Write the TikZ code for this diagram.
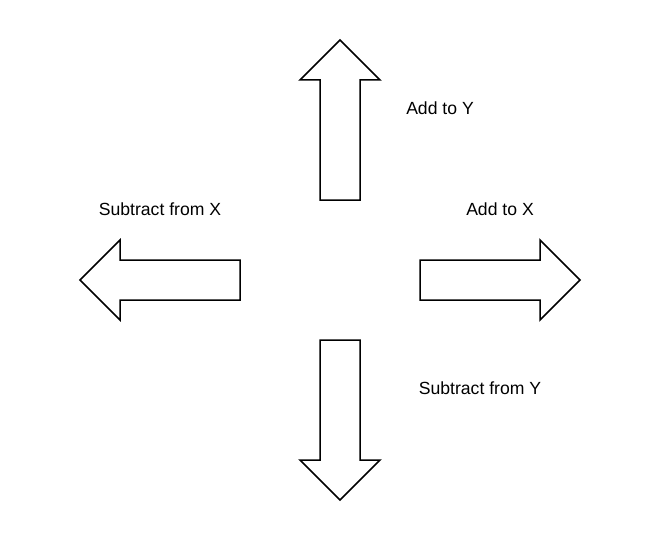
\documentclass[tikz,border=0pt]{standalone}
\usepackage{fontspec}
\setmainfont{Liberation Sans}
\begin{document}
\begin{tikzpicture}[x=1pt,y=-1pt,
  arrowshape/.style={draw=black,fill=white,line width=1.5pt,line join=miter},
  lbl/.style={inner sep=0pt,font=\fontsize{17.6}{21}\selectfont}]
\useasboundingbox (0,0) rectangle (660,540);
% up arrow
\draw[arrowshape] (340,40) -- (380,80) -- (360,80) -- (360,200) -- (320,200) -- (320,80) -- (300,80) -- cycle;
% right arrow
\draw[arrowshape] (580,280) -- (540,320) -- (540,300) -- (420,300) -- (420,260) -- (540,260) -- (540,240) -- cycle;
% left arrow
\draw[arrowshape] (80,280) -- (120,240) -- (120,260) -- (240,260) -- (240,300) -- (120,300) -- (120,320) -- cycle;
% down arrow
\draw[arrowshape] (340,500) -- (300,460) -- (320,460) -- (320,340) -- (360,340) -- (360,460) -- (380,460) -- cycle;
\node[lbl] (ay) at (440,108) {Add to Y};
\node[lbl] (sx) at (160,209) {Subtract from X};
\node[lbl] (ax) at (500,209) {Add to X};
\node[lbl] (sy) at (480,388) {Subtract from Y};
\end{tikzpicture}
\end{document}
